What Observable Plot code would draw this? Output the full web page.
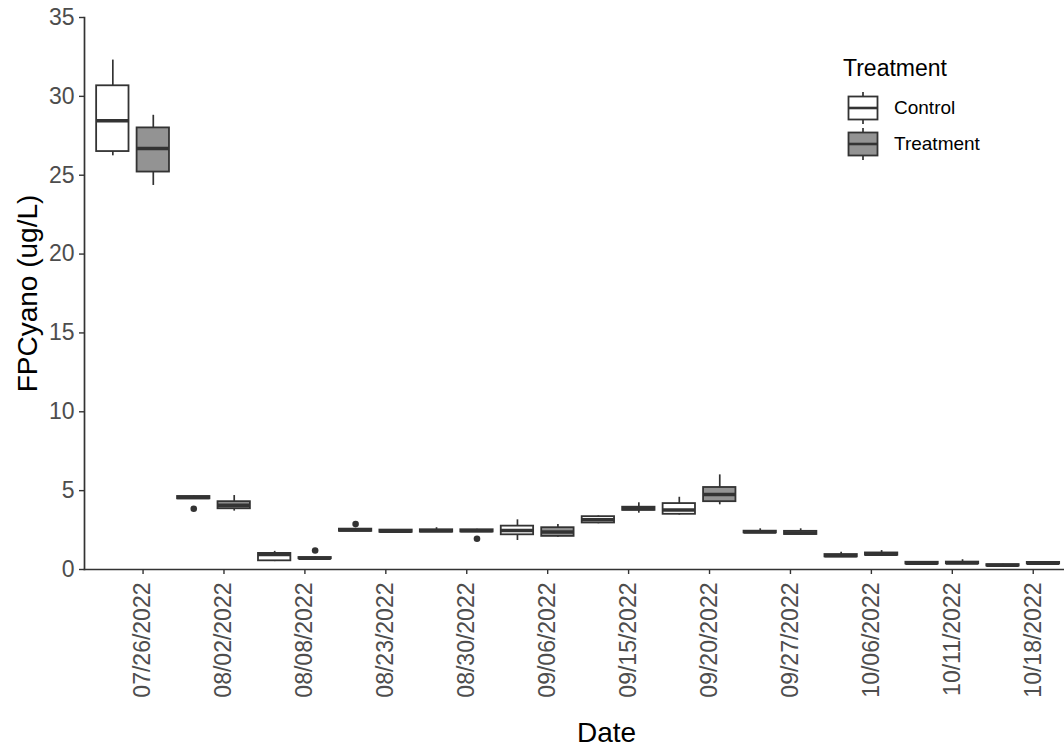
<!DOCTYPE html>
<html>
<head>
<meta charset="utf-8">
<script src="https://cdn.jsdelivr.net/npm/d3@7"></script>
<script src="https://cdn.jsdelivr.net/npm/@observablehq/plot@0.6"></script>
<style>
  html, body { margin: 0; padding: 0; background: #fff; overflow: hidden; }
  #wrap { position: relative; width: 1064px; height: 749px; font-family: "Liberation Sans", Arial, sans-serif; }
  #legend { position: absolute; left: 843px; top: 54px; color: #000; }
  #legend .title { font-size: 23px; line-height: 28px; margin-bottom: 8px; }
  #legend .item { display: flex; align-items: center; height: 36px; font-size: 19px; }
  #legend svg { margin-left: 4px; margin-right: 15px; }
</style>
</head>
<body>
<div id="wrap"><div id="chart"></div><div id="legend"></div></div>
<script>
// ---- data ----
const dates = ["07/26/2022","08/02/2022","08/08/2022","08/23/2022","08/30/2022","09/06/2022",
               "09/15/2022","09/20/2022","09/27/2022","10/06/2022","10/11/2022","10/18/2022"];
const groups = ["Control", "Treatment"];

const ctrlMin    = [26.23, 4.45, 0.50, 2.40, 2.35, 1.84, 2.90, 3.45, 2.30, 0.78, 0.33, 0.20];
const ctrlQ1     = [26.50, 4.48, 0.55, 2.42, 2.37, 2.20, 2.95, 3.50, 2.32, 0.80, 0.35, 0.22];
const ctrlMedian = [28.45, 4.56, 0.95, 2.50, 2.45, 2.47, 3.15, 3.78, 2.38, 0.87, 0.40, 0.27];
const ctrlQ3     = [30.67, 4.63, 1.02, 2.56, 2.52, 2.75, 3.35, 4.18, 2.43, 0.95, 0.46, 0.31];
const ctrlMax    = [32.30, 4.66, 1.15, 2.60, 2.65, 3.15, 3.40, 4.58, 2.58, 1.10, 0.48, 0.33];

const trtMin     = [24.35, 3.70, 0.65, 2.33, 2.35, 2.05, 3.57, 4.10, 2.20, 0.88, 0.33, 0.33];
const trtQ1      = [25.20, 3.85, 0.68, 2.36, 2.38, 2.10, 3.75, 4.30, 2.22, 0.90, 0.36, 0.35];
const trtMedian  = [26.70, 4.08, 0.72, 2.42, 2.45, 2.37, 3.85, 4.76, 2.32, 0.97, 0.42, 0.40];
const trtQ3      = [28.00, 4.30, 0.76, 2.50, 2.52, 2.65, 3.95, 5.20, 2.42, 1.05, 0.47, 0.45];
const trtMax     = [28.80, 4.69, 0.80, 2.52, 2.55, 2.85, 4.23, 6.00, 2.58, 1.20, 0.62, 0.50];

const outlierDate  = ["08/02/2022", "08/08/2022", "08/23/2022", "08/30/2022"];
const outlierGroup = ["Control", "Treatment", "Control", "Treatment"];
const outlierValue = [3.85, 1.20, 2.88, 1.95];

const yTicks = [0, 5, 10, 15, 20, 25, 30, 35];

// ---- tables built from the arrays ----
const boxes = dates.flatMap((d, i) => [
  {date: d, group: "Control",   min: ctrlMin[i], q1: ctrlQ1[i], median: ctrlMedian[i], q3: ctrlQ3[i], max: ctrlMax[i]},
  {date: d, group: "Treatment", min: trtMin[i],  q1: trtQ1[i],  median: trtMedian[i],  q3: trtQ3[i],  max: trtMax[i]}
]);
const outliers = outlierDate.map((d, i) => ({date: d, group: outlierGroup[i], value: outlierValue[i]}));

// dodged position: date index (1-based) shifted by group
const pos = r => dates.indexOf(r.date) + 1 + (r.group === "Control" ? -0.25 : 0.25);
const half = 0.2;
const lineColor = "#333333";

const chart = Plot.plot({
  width: 1064,
  height: 749,
  marginLeft: 84,
  marginRight: 0,
  marginTop: 17,
  marginBottom: 180,
  style: {fontFamily: "Liberation Sans, Arial, sans-serif", background: "transparent"},
  x: {type: "linear", domain: [0.4, 12.51], axis: null},
  y: {domain: [0, 35], axis: null},
  color: {domain: groups, range: ["#ffffff", "#939393"]},
  marks: [
    Plot.ruleX(boxes, {x: pos, y1: "min", y2: "max", stroke: lineColor, strokeWidth: 1.7}),
    Plot.rect(boxes, {x1: r => pos(r) - half, x2: r => pos(r) + half, y1: "q1", y2: "q3",
                      fill: "group", stroke: lineColor, strokeWidth: 1.8}),
    Plot.ruleY(boxes, {x1: r => pos(r) - half, x2: r => pos(r) + half, y: "median",
                       stroke: lineColor, strokeWidth: 3.5}),
    Plot.dot(outliers, {x: pos, y: "value", r: 3.3, fill: lineColor, stroke: "none"}),
    Plot.frame({anchor: "left", stroke: lineColor, strokeWidth: 1.7}),
    Plot.frame({anchor: "bottom", stroke: lineColor, strokeWidth: 1.7}),
    Plot.axisY({ticks: yTicks, tickSize: 5, tickPadding: 5, fontSize: 23, fill: "#4d4d4d",
                stroke: lineColor, strokeWidth: 1.4, label: null}),
    Plot.axisX({ticks: d3.range(1, 13), tickFormat: i => dates[i - 1], tickRotate: -90,
                tickSize: 5, tickPadding: 8, fontSize: 23, fill: "#4d4d4d",
                stroke: lineColor, strokeWidth: 1.4, label: null, dx: 10}),
    Plot.text(["FPCyano (ug/L)"], {frameAnchor: "left", textAnchor: "middle", lineAnchor: "middle",
                                    rotate: -90, dx: -56, fontSize: 28, fill: "#000"}),
    Plot.text(["Date"], {frameAnchor: "bottom", textAnchor: "middle", dy: 172, dx: 32, fontSize: 28, fill: "#000"})
  ]
});
document.getElementById("chart").append(chart);

// ---- legend (boxplot key glyphs) ----
const legend = document.getElementById("legend");
legend.innerHTML = `<div class="title">Treatment</div>` + groups.map(g => {
  const fill = chart.scale("color").apply(g);
  return `<div class="item"><svg width="32" height="34" viewBox="0 0 32 34">
    <line x1="16" y1="1" x2="16" y2="33" stroke="${lineColor}" stroke-width="1.7"/>
    <rect x="1.5" y="5.5" width="29" height="23" fill="${fill}" stroke="${lineColor}" stroke-width="1.8"/>
    <line x1="1.5" y1="17" x2="30.5" y2="17" stroke="${lineColor}" stroke-width="2.6"/>
  </svg><span>${g}</span></div>`;
}).join("");
</script>
</body>
</html>
